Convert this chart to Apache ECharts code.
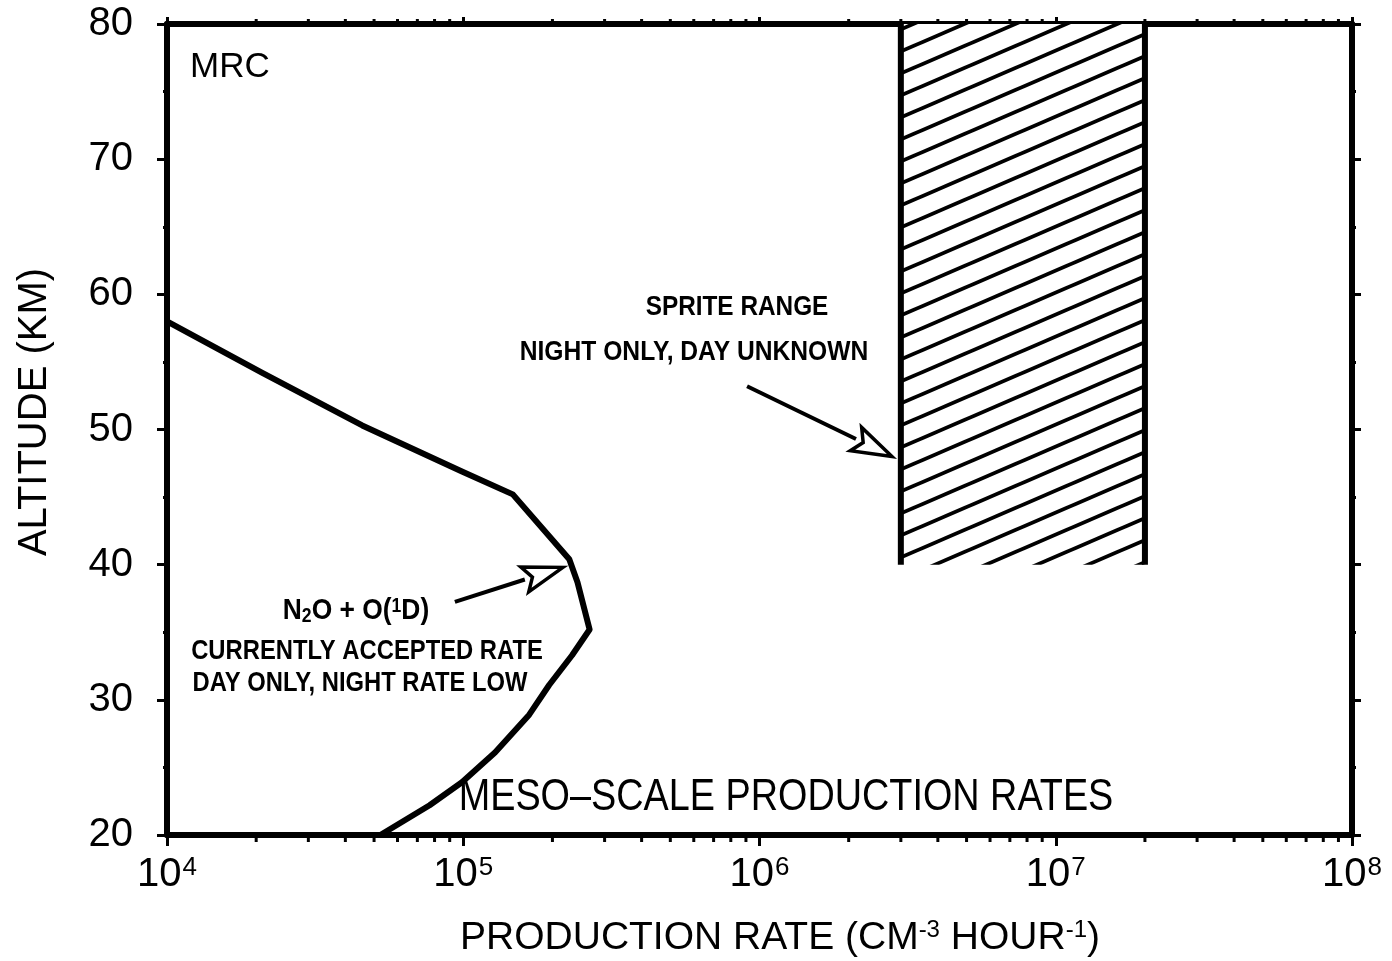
<!DOCTYPE html>
<html>
<head>
<meta charset="utf-8">
<title>Meso-scale production rates</title>
<script src="https://cdn.jsdelivr.net/npm/echarts@6/dist/echarts.min.js"></script>
<style>
  html, body { margin: 0; padding: 0; background: #fff; }
  #chart { width: 1392px; height: 961px; }
</style>
</head>
<body>
<div id="chart"></div>
<script>
// N2O + O(1D) production profile: rate (per cm^3 per hour) against altitude (km)
const n2oRate = [1.0e4, 2.09e4, 4.56e4, 9.9e4, 1.47e5, 2.28e5, 2.43e5, 2.67e5, 2.33e5, 1.95e5, 1.67e5, 1.28e5, 9.9e4, 7.7e4, 5.25e4];
const n2oAlt  = [58.0, 54.2, 50.3, 46.9, 45.2, 40.4, 38.7, 35.2, 33.3, 31.1, 28.9, 26.1, 23.9, 22.2, 20.0];

// Sprite production band: rate range and altitude range
const spriteRate = [3e6, 2e7];
const spriteAlt  = [40, 80];

// Callout arrows: tail (rate, alt) -> tip (rate, alt)
const arrowFromRate = [9.08e5, 9.37e4];
const arrowFromAlt  = [53.2, 37.25];
const arrowToRate   = [2.80e6, 2.17e5];
const arrowToAlt    = [48.0, 39.8];

// Axis ranges and ticks
const rateMin = 1e4, rateMax = 1e8;
const altMin = 20, altMax = 80, altStep = 10;
const rateMinorTicks = [];
[1e4, 1e5, 1e6, 1e7].forEach(function (d) {
  [2, 3, 4, 5, 6, 7, 8, 9].forEach(function (m) { rateMinorTicks.push(m * d); });
});

const REG = '"Liberation Sans", Arial, sans-serif';

// diagonal hatching tile
function hatchTile() {
  const w = 51, h = 22;
  const slope = h / w;
  const c = document.createElement('canvas');
  c.width = w; c.height = h;
  const ctx = c.getContext('2d');
  ctx.fillStyle = '#fff';
  ctx.fillRect(0, 0, w, h);
  ctx.strokeStyle = '#000';
  ctx.lineWidth = 3.8;
  ctx.lineCap = 'butt';
  [-h, 0, h].forEach(function (off) {
    ctx.beginPath();
    ctx.moveTo(-4, h + off + 4 * slope);
    ctx.lineTo(w + 4, off - 4 * slope);
    ctx.stroke();
  });
  return c;
}
const hatch = hatchTile();

const chart = echarts.init(document.getElementById('chart'), null, { renderer: 'canvas' });

const black = '#000';
const axisLine = { show: true, onZero: false, lineStyle: { color: black, width: 6 } };

// condensed bold annotation lettering
function note(text, x, y, size, scale, extra) {
  const style = { text: text, fill: black, font: 'bold ' + size + 'px ' + REG, align: 'center', verticalAlign: 'middle' };
  if (extra) Object.assign(style, extra);
  return { type: 'text', x: x, y: y, z: 10, scaleX: scale, style: style };
}

const option = {
  animation: false,
  backgroundColor: '#fff',
  grid: { left: 167, right: 40, top: 24, bottom: 126, containLabel: false },
  xAxis: [
    {
      type: 'log', logBase: 10, min: rateMin, max: rateMax, position: 'bottom',
      axisLine: axisLine,
      axisTick: { show: true, length: 11, lineStyle: { color: black, width: 3 } },
      splitLine: { show: false },
      axisLabel: {
        margin: 20, color: black, fontFamily: REG, fontSize: 40,
        formatter: function (v) { return '10{s|' + Math.round(Math.log10(v)) + '}'; },
        rich: { s: { fontSize: 26, fontFamily: REG, color: black, verticalAlign: 'top', padding: [0, 0, 0, 1] } }
      }
    },
    {
      type: 'log', logBase: 10, min: rateMin, max: rateMax, position: 'top',
      axisLine: axisLine,
      axisTick: { show: true, length: 7, lineStyle: { color: black, width: 3 } },
      axisLabel: { show: false }, splitLine: { show: false }
    }
  ],
  yAxis: [
    {
      type: 'value', min: altMin, max: altMax, interval: altStep, position: 'left',
      axisLine: axisLine,
      axisTick: { show: true, length: 10, lineStyle: { color: black, width: 3 } },
      minorTick: { show: true, splitNumber: 2, length: 4, lineStyle: { color: black, width: 3 } },
      splitLine: { show: false },
      axisLabel: { margin: 34, color: black, fontFamily: REG, fontSize: 40 }
    },
    {
      type: 'value', min: altMin, max: altMax, interval: altStep, position: 'right',
      axisLine: axisLine,
      axisTick: { show: true, length: 9, lineStyle: { color: black, width: 3 } },
      minorTick: { show: true, splitNumber: 2, length: 4, lineStyle: { color: black, width: 3 } },
      splitLine: { show: false },
      axisLabel: { show: false }
    }
  ],
  series: [
    {
      // hatched sprite band with its two side edges
      type: 'custom',
      name: 'Sprite range',
      xAxisIndex: 0, yAxisIndex: 0,
      z: 3,
      data: [[spriteRate[0], spriteAlt[0], spriteRate[1], spriteAlt[1]]],
      encode: { x: [0, 2], y: [1, 3] },
      renderItem: function (params, api) {
        const p0 = api.coord([api.value(0), api.value(1)]);
        const p1 = api.coord([api.value(2), api.value(3)]);
        const x0 = p0[0], x1 = p1[0], yb = p0[1], yt = p1[1];
        return {
          type: 'group',
          children: [
            { type: 'rect', shape: { x: x0, y: yt, width: x1 - x0, height: yb - yt },
              style: { fill: { image: hatch, repeat: 'repeat' }, stroke: null } },
            { type: 'line', shape: { x1: x0, y1: yt, x2: x0, y2: yb }, style: { stroke: black, lineWidth: 6 } },
            { type: 'line', shape: { x1: x1, y1: yt, x2: x1, y2: yb }, style: { stroke: black, lineWidth: 6 } }
          ]
        };
      }
    },
    {
      type: 'line',
      name: 'N2O + O(1D)',
      xAxisIndex: 0, yAxisIndex: 0,
      z: 4,
      symbol: 'none',
      smooth: false,
      lineStyle: { color: black, width: 6, join: 'round', cap: 'round' },
      data: n2oRate.map(function (r, i) { return [r, n2oAlt[i]]; })
    },
    {
      // callout arrows with open heads
      type: 'custom',
      name: 'Arrows',
      xAxisIndex: 0, yAxisIndex: 0,
      z: 5,
      data: arrowFromRate.map(function (r, i) { return [r, arrowFromAlt[i], arrowToRate[i], arrowToAlt[i]]; }),
      encode: { x: [0, 2], y: [1, 3] },
      renderItem: function (params, api) {
        const a = api.coord([api.value(0), api.value(1)]);
        const b = api.coord([api.value(2), api.value(3)]);
        const dx = b[0] - a[0], dy = b[1] - a[1];
        const len = Math.sqrt(dx * dx + dy * dy);
        const ux = dx / len, uy = dy / len;
        const headLen = 40, headHalf = 13;
        const bx = b[0] - ux * headLen, by = b[1] - uy * headLen;
        const nx = -uy, ny = ux;
        return {
          type: 'group',
          children: [
            { type: 'line', shape: { x1: a[0], y1: a[1], x2: bx, y2: by },
              style: { stroke: black, lineWidth: 4 } },
            { type: 'polygon',
              shape: { points: [[b[0], b[1]], [bx + nx * headHalf, by + ny * headHalf], [bx + ux * 8, by + uy * 8], [bx - nx * headHalf, by - ny * headHalf]] },
              style: { fill: '#fff', stroke: black, lineWidth: 3.5, lineJoin: 'miter' } }
          ]
        };
      }
    },
    {
      // minor ticks of the logarithmic rate axis (bottom and top edges)
      type: 'custom',
      name: 'Minor ticks',
      xAxisIndex: 0, yAxisIndex: 0,
      z: 6,
      silent: true,
      data: rateMinorTicks.map(function (v) { return [v, altMin]; }),
      encode: { x: 0, y: 1 },
      renderItem: function (params, api) {
        const pb = api.coord([api.value(0), altMin]);
        const pt = api.coord([api.value(0), altMax]);
        return {
          type: 'group',
          children: [
            { type: 'line', shape: { x1: pb[0], y1: pb[1], x2: pb[0], y2: pb[1] + 7 }, style: { stroke: black, lineWidth: 3 } },
            { type: 'line', shape: { x1: pt[0], y1: pt[1], x2: pt[0], y2: pt[1] - 5 }, style: { stroke: black, lineWidth: 3 } }
          ]
        };
      }
    }
  ],
  graphic: [
    { type: 'text', left: 190, top: 50, z: 10,
      style: { text: 'MRC', fill: black, font: '35px ' + REG } },
    note('SPRITE RANGE', 737, 307, 28, 0.87),
    note('NIGHT ONLY, DAY UNKNOWN', 694, 352, 28, 0.88),
    note('N{sub|2}O + O({sup|1}D)', 356, 611, 30, 0.88, {
      rich: {
        sub: { font: 'bold 20px ' + REG, fill: black, verticalAlign: 'bottom' },
        sup: { font: 'bold 20px ' + REG, fill: black, verticalAlign: 'top' }
      }
    }),
    note('CURRENTLY ACCEPTED RATE', 367, 651, 28, 0.85),
    note('DAY ONLY, NIGHT RATE LOW', 360, 683, 28, 0.85),
    { type: 'text', x: 786, y: 798, z: 10, scaleX: 0.84,
      style: { text: 'MESO\u2013SCALE PRODUCTION RATES', fill: black, font: '45px ' + REG, align: 'center', verticalAlign: 'middle' } },
    { type: 'text', x: 35, y: 412, rotation: Math.PI / 2, z: 10,
      style: { text: 'ALTITUDE (KM)', fill: black, font: '40px ' + REG, align: 'center', verticalAlign: 'middle' } },
    { type: 'text', x: 780, y: 938, z: 10,
      style: {
        text: 'PRODUCTION RATE (CM{s|-3} HOUR{s|-1})', fill: black, font: '39px ' + REG, align: 'center', verticalAlign: 'middle',
        rich: { s: { font: '24px ' + REG, fill: black, verticalAlign: 'top' } }
      } }
  ]
};

chart.setOption(option);
</script>
</body>
</html>
